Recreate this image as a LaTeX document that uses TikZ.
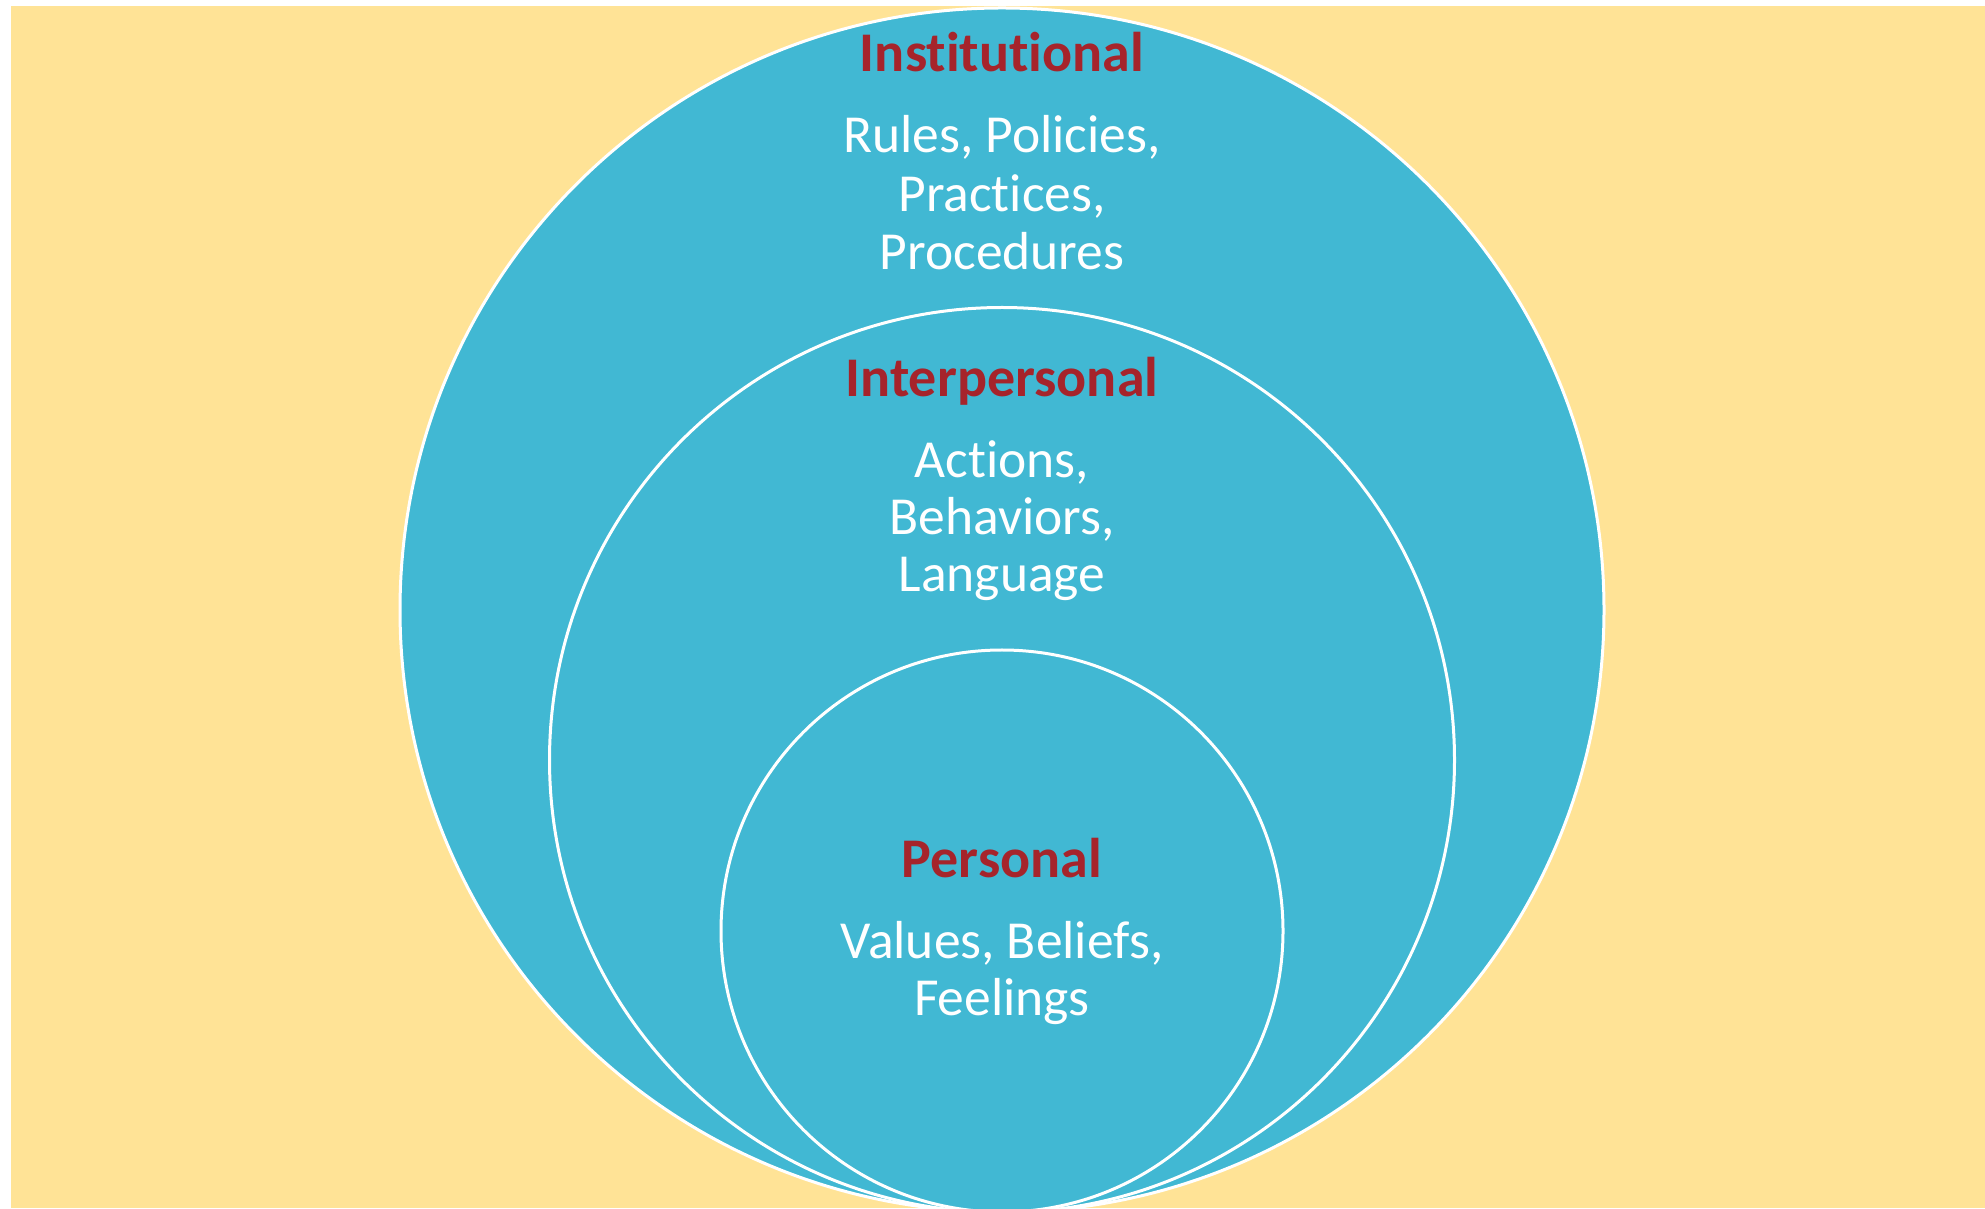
\documentclass[tikz,border=0pt]{standalone}
\usepackage{fontspec}
\setmainfont[Ligatures=CommonOff]{Carlito}
\definecolor{bgyellow}{HTML}{FFE396}
\definecolor{ringblue}{HTML}{41B8D3}
\definecolor{titlered}{HTML}{A6242B}
\begin{document}
\begin{tikzpicture}[x=1pt,y=1pt,
  ring/.style={circle, fill=ringblue, draw=white, line width=3pt, inner sep=0pt},
  ttl/.style={text=titlered, font=\fontsize{56}{62}\selectfont\bfseries, anchor=base, inner sep=0pt},
  body/.style={text=white, font=\fontsize{53.5}{62}\selectfont, anchor=base, inner sep=0pt}]
\useasboundingbox (0,0) rectangle (1985,1208);
\fill[bgyellow] (11,0) rectangle (1985,1202);
\node[ring, minimum size=1204pt] (outer) at (1002,598) {};
\node[ring, minimum size=905pt] (middle) at (1002,448) {};
\node[ring, minimum size=562pt] (inner) at (1002,277) {};
% Institutional
\node[ttl] (t1) at (1002,1136) {Institutional};
\node[body] (t1a) at (1002,1055) {Rules, Policies,};
\node[body] (t1b) at (1002,996) {Practices,};
\node[body] (t1c) at (1002,938) {Procedures};
% Interpersonal
\node[ttl] (t2) at (1002,811) {Interpersonal};
\node[body] (t2a) at (1002,730) {Actions,};
\node[body] (t2b) at (1002,673) {Behaviors,};
\node[body] (t2c) at (1002,616) {Language};
% Personal
\node[ttl] (t3) at (1002,331) {Personal};
\node[body] (t3a) at (1002,250) {Values, Beliefs,};
\node[body] (t3b) at (1002,193) {Feelings};
\end{tikzpicture}
\end{document}
